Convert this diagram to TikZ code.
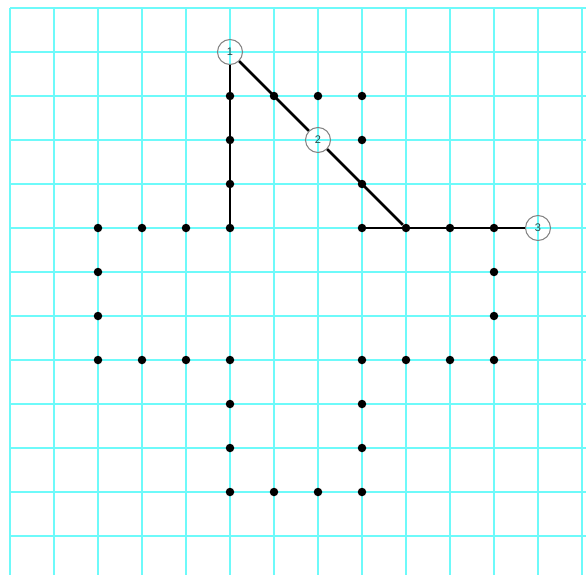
\documentclass[tikz,border=0pt]{standalone}
\usepackage{fontspec}
\setsansfont{Liberation Sans}
\begin{document}
\begin{tikzpicture}[x=1pt,y=-1pt,
  gridline/.style={draw={rgb,255:red,110;green,250;blue,250}, line width=2.5pt},
  dot/.style={circle, fill=black, inner sep=0pt, minimum size=8.5pt},
  marker/.style={circle, draw=gray, line width=1pt, inner sep=0pt, minimum size=25pt,
    font=\sffamily\fontsize{11}{11}\selectfont, text={rgb,255:red,40;green,70;blue,70}},
  link/.style={draw=black, line width=2.6pt}]
\useasboundingbox (0,0) rectangle (586,575);
% grid
\foreach \i in {0,...,13} \draw[gridline] ({10+44*\i},8) -- ({10+44*\i},575);
\foreach \j in {0,...,12} \draw[gridline] (10,{8+44*\j}) -- (586,{8+44*\j});
% dots: (i,j) grid indices, x=10+44i, y=8+44j
\foreach \i/\j in {5/2,6/2,7/2,8/2, 5/3,8/3, 5/4,8/4,
  2/5,3/5,4/5,5/5,8/5,9/5,10/5,11/5,
  2/6,11/6, 2/7,11/7,
  2/8,3/8,4/8,5/8,8/8,9/8,10/8,11/8,
  5/9,8/9, 5/10,8/10, 5/11,6/11,7/11,8/11}
  \node[dot] (d\i-\j) at ({10+44*\i},{8+44*\j}) {};
% circled markers
\node[marker] (c1) at (230,52) {1};
\node[marker] (c2) at (318,140) {2};
\node[marker] (c3) at (538,228) {3};
% connectors
\draw[link] (c1) -- (d5-5);
\draw[link] (c1) -- (c2);
\draw[link] (c2) -- (d9-5);
\draw[link] (d8-5) -- (c3);
\end{tikzpicture}
\end{document}
